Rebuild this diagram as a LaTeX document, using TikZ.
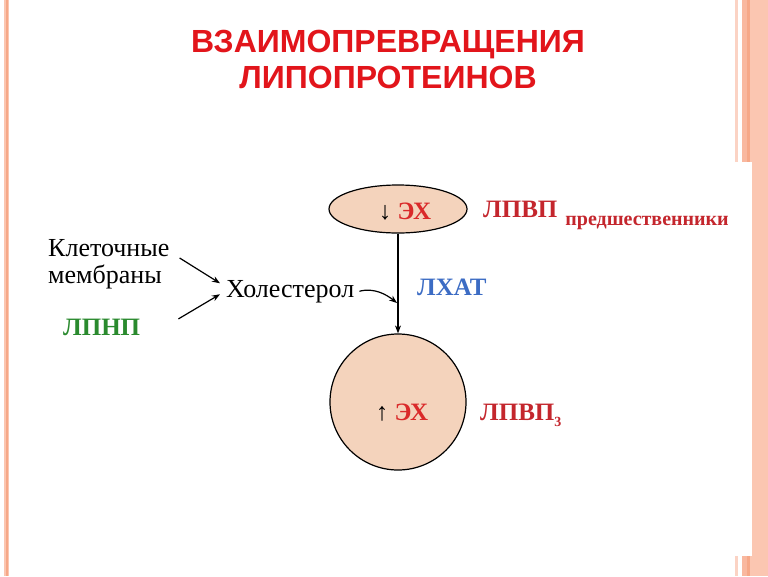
\documentclass[tikz,border=0pt]{standalone}
\usepackage{fontspec}
\setmainfont{Liberation Serif}
\newfontfamily\titlefont{Liberation Sans}
\usetikzlibrary{shapes.geometric,arrows.meta,calc}
\definecolor{titlered}{HTML}{E2151B}
\definecolor{lpvpred}{HTML}{C4262D}
\definecolor{exred}{HTML}{DA2A2A}
\definecolor{lxatblue}{HTML}{3C6CC4}
\definecolor{lpnpgreen}{HTML}{2A8A2E}
\definecolor{peach}{HTML}{F4D3BC}
\definecolor{stripeA}{HTML}{FBD3C4}
\definecolor{stripeB}{HTML}{F9B89F}
\definecolor{stripeC}{HTML}{F6A888}
\definecolor{stripeD}{HTML}{FBC6B1}
\tikzset{
  lbl/.style={inner sep=0pt, font=\fontsize{26}{27}\selectfont},
  boldlbl/.style={inner sep=0pt, font=\fontsize{25}{26}\selectfont\bfseries},
  titlestyle/.style={inner sep=0pt, text=titlered, font=\titlefont\bfseries\fontsize{32}{36}\selectfont},
  arr/.style={-{Stealth[length=8pt,width=6pt]}, line width=1.2pt, black},
  blob/.style={draw=black, line width=1.2pt, fill=peach, inner sep=0pt}
}
\begin{document}
\begin{tikzpicture}[x=1pt,y=-1pt]
\useasboundingbox (0,0) rectangle (768,576);
\fill[white] (0,0) rectangle (768,576);
% borders
\fill[stripeD] (4,0) rectangle (9,576);
\fill[stripeC] (5.5,0) rectangle (7.5,576);
\fill[stripeA] (735,0) rectangle (737.5,576);
\fill[stripeB] (742,0) rectangle (747,576);
\fill[stripeC] (747,0) rectangle (750,576);
\fill[stripeD] (750,0) rectangle (768,576);
\fill[white] (15,162) rectangle (752,556);
% title
\node[titlestyle, anchor=base] (t1) at (388,52) {ВЗАИМОПРЕВРАЩЕНИЯ};
\node[titlestyle, anchor=base] (t2) at (388,88) {ЛИПОПРОТЕИНОВ};
% blobs
\node[blob, ellipse, minimum width=138pt, minimum height=48pt] (top) at (398,209) {};
\node[blob, circle, minimum size=136pt] (bot) at (398,402) {};
\node[boldlbl, anchor=base] (ex1) at (405,219) {\mdseries↓ \textcolor{exred}{\bfseries ЭХ}};
\node[boldlbl, anchor=base] (ex2) at (402,420) {\mdseries↑ \textcolor{exred}{\bfseries ЭХ}};
% labels
\node[boldlbl, text=lpvpred, anchor=base west] (lpvp1) at (483,217) {ЛПВП\hspace{8pt}\raisebox{-8pt}{\fontsize{20}{21}\selectfont предшественники}};
\node[boldlbl, text=lpvpred, anchor=base west] (lpvp3) at (480,420) {ЛПВП\raisebox{-6pt}{\fontsize{14}{16}\selectfont 3}};
\node[boldlbl, text=lxatblue, anchor=base west] (lxat) at (417,295) {ЛХАТ};
\node[lbl, anchor=base west] (hol) at (226,297) {Холестерол};
\node[lbl, anchor=north west, align=left] (klet) at (48,239) {Клеточные\\мембраны};
\node[boldlbl, text=lpnpgreen, anchor=base west] (lpnp) at (63,335) {ЛПНП};
% connectors
\coordinate (j) at (397,303);
\draw[arr] (top.south) -- (bot.north);
\draw[arr] ($(hol.east)+(5,0)$) .. controls +(15,-4) and +(-10,-8) .. (j);
\draw[arr] ($(klet.east)+(10,-6)$) -- ($(hol.west)+(-6,-8)$);
\draw[arr] ($(lpnp.east)+(38,-8)$) -- ($(hol.west)+(-6,3)$);
\end{tikzpicture}
\end{document}
